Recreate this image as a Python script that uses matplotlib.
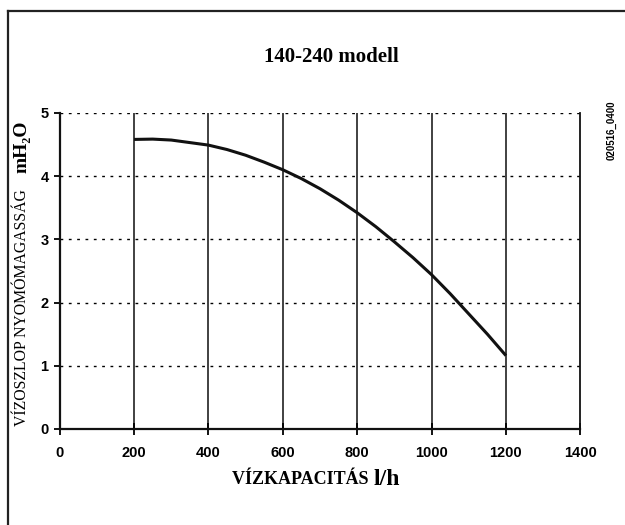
import matplotlib.pyplot as plt
from matplotlib.lines import Line2D

# adatok a diagramról leolvasva
kapacitas = [200, 250, 300, 350, 400, 450, 500, 550, 600, 650, 700,
             750, 800, 850, 900, 950, 1000, 1050, 1100, 1150, 1200]
nyomas = [4.58, 4.585, 4.57, 4.53, 4.49, 4.42, 4.33, 4.22, 4.10, 3.96, 3.80,
          3.62, 3.42, 3.20, 2.96, 2.71, 2.44, 2.14, 1.82, 1.50, 1.16]

x_ticks = [0, 200, 400, 600, 800, 1000, 1200, 1400]
y_ticks = [0, 1, 2, 3, 4, 5]

serif = ['Liberation Serif', 'DejaVu Serif']
sans = ['Liberation Sans', 'DejaVu Sans']

fig = plt.figure(figsize=(6.25, 5.25), dpi=100)
ax = fig.add_axes([0.0955, 0.183, 0.833, 0.602])

# racsvonalak
for xv in x_ticks[1:-1]:
    ax.axvline(xv, color='#333333', lw=1.3, zorder=1)
for yv in y_ticks[1:]:
    ax.axhline(yv, color='black', lw=1.0, ls=(0, (2, 4)), zorder=1)

ax.plot(kapacitas, nyomas, color='#111111', lw=2.2, zorder=3,
        solid_capstyle='butt', solid_joinstyle='round')

ax.set_xlim(0, 1400)
ax.set_ylim(0, 5)
ax.set_xticks(x_ticks)
ax.set_yticks(y_ticks)
ax.spines['top'].set_visible(False)
for s in ['left', 'bottom', 'right']:
    ax.spines[s].set_linewidth(1.6)
    ax.spines[s].set_color('#111111')
ax.spines['right'].set_linewidth(1.3)
ax.tick_params(axis='x', direction='inout', length=8, width=1.3, pad=8)
ax.tick_params(axis='y', direction='out', length=4, width=1.3, pad=4)
for lab in ax.get_xticklabels() + ax.get_yticklabels():
    lab.set_family(sans)
    lab.set_fontweight('bold')
    lab.set_fontsize(10.5)

fig.text(0.53, 0.891, '140-240 modell', family=serif, fontweight='bold',
         fontsize=15, ha='center', va='center')
fig.text(0.597, 0.086, 'VÍZKAPACITÁS ', family=serif, fontweight='bold',
         fontsize=13, ha='right', va='center')
fig.text(0.597, 0.086, 'l/h', family=serif, fontweight='bold',
         fontsize=17, ha='left', va='center')
fig.text(0.035, 0.415, 'VÍZOSZLOP NYOMÓMAGASSÁG', family=serif,
         fontsize=11.3, rotation=90, ha='center', va='center')
fig.text(0.035, 0.72, 'mH₂O', family=serif, fontweight='bold',
         fontsize=14, rotation=90, ha='center', va='center')
fig.text(0.978, 0.752, '020516_0400',
         family=['Liberation Sans Narrow', 'Liberation Sans', 'DejaVu Sans'],
         fontweight='bold', fontsize=7, rotation=90, ha='center', va='center')

# keret
fig.add_artist(Line2D([0.013, 0.013], [0.0, 0.979], color='#222222', lw=1.6))
fig.add_artist(Line2D([0.013, 1.0], [0.979, 0.979], color='#222222', lw=1.6))

fig.savefig('out.png', dpi=100)
